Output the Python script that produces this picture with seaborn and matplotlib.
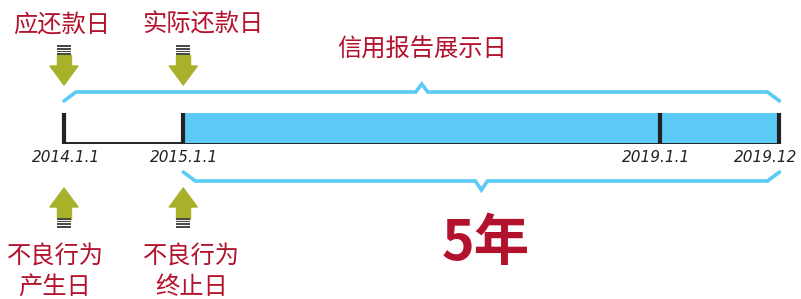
import matplotlib
matplotlib.use("Agg")
import matplotlib.pyplot as plt
from matplotlib.patches import Polygon, Rectangle
import seaborn as sns
import pandas as pd

# ---- data ----
tick_years = [2014.0, 2015.0, 2019.0, 2020.0]
tick_labels = ["2014.1.1", "2015.1.1", "2019.1.1", "2019.12"]
display_start, display_end = 2015.0, 2020.0      # blue bar (credit report display)
top_span = (2014.0, 2020.0)                      # 信用报告展示日 bracket
bottom_span = (2015.0, 2020.0)                   # 5年 bracket
top_labels = ["应还款日", "实际还款日"]
top_label_years = [2014.0, 2015.0]
bottom_labels = ["不良行为\n产生日", "不良行为\n终止日"]
bottom_label_years = [2014.0, 2015.0]
span_title = "信用报告展示日"
span_years_label = "5年"

sns.set_theme(style="white")
plt.rcParams['font.family'] = ['Noto Sans CJK SC', 'DejaVu Sans']

W, H = 801, 299
fig = plt.figure(figsize=(W / 100, H / 100), dpi=100)
ax = fig.add_axes([0, 0, 1, 1])
PX = 119.25                      # pixels per year
x0 = 2014.0 - 64 / PX
ax.set_xlim(x0, x0 + W / PX)
ax.set_ylim(H, 0)
ax.axis("off")
p = 1 / PX                       # one pixel in years

RED = "#B3122C"
BLUE = "#5BCAF5"
GREEN = "#A9B12B"
DARK = "#222222"

# baseline
ax.plot([tick_years[0], tick_years[-1]], [143, 143], color=DARK, lw=1.4, zorder=1)
# blue display bar
ax.barh(y=128, width=display_end - display_start, left=display_start, height=30,
        color=BLUE, edgecolor="none", zorder=2)
# tick marks
ax.vlines(tick_years, 113, 144, color=DARK, lw=3, zorder=3)
label_offsets = [2, 1, -4, -14]
for yr, lab, off in zip(tick_years, tick_labels, label_offsets):
    ax.text(yr + off * p, 157, lab, ha="center", va="center", fontsize=11, style="italic",
            color=DARK, family=["DejaVu Sans"])

def bracket(a, b, base, tip, end):
    mid = (a + b) / 2
    xs = [a, a + 12 * p, mid - 6 * p, mid, mid + 6 * p, b - 12 * p, b]
    ys = [end, base, base, tip, base, base, end]
    df = pd.DataFrame({"x": xs, "y": ys})
    sns.lineplot(data=df, x="x", y="y", sort=False, color=BLUE, lw=2.6,
                 ax=ax, zorder=2, solid_joinstyle="miter")

bracket(top_span[0], top_span[1], 92, 84, 101)
bracket(bottom_span[0], bottom_span[1], 181, 190, 172)
ax.set_xlabel(""); ax.set_ylabel("")

def arrow(xc, tip_y, down=True):
    s = 1 if down else -1
    hb = tip_y - s * 19
    head = [(xc - 14 * p, hb), (xc + 14 * p, hb), (xc, tip_y)]
    ax.add_patch(Polygon(head, closed=True, color=GREEN, zorder=4, joinstyle="round"))
    sb = hb - s * 11
    ax.add_patch(Rectangle((xc - 7 * p, min(hb, sb)), 14 * p, 11.5, color=GREEN, zorder=4))
    for i in range(4):
        yy = sb - s * (1.0 + i * 2.6)
        ax.add_patch(Rectangle((xc - 7 * p, yy - 0.8), 14 * p, 1.6,
                               color="#4a4a4a", zorder=4, lw=0))

for yr in top_label_years:
    arrow(yr, 85, down=True)
for yr in bottom_label_years:
    arrow(yr, 188, down=False)

top_offsets = [-2, 20]
for yr, lab, off in zip(top_label_years, top_labels, top_offsets):
    ax.text(yr + off * p, 25, lab, ha="center", va="center", fontsize=17.5, color=RED)
bottom_offsets = [-9, 8]
for yr, lab, off in zip(bottom_label_years, bottom_labels, bottom_offsets):
    ax.text(yr + off * p, 272, lab, ha="center", va="center",
            fontsize=17.5, color=RED, linespacing=1.25)
ax.text((top_span[0] + top_span[1]) / 2, 50, span_title, ha="center", va="center",
        fontsize=17.5, color=RED)
ax.text((bottom_span[0] + bottom_span[1]) / 2 + 4 * p, 244, span_years_label,
        ha="center", va="center", fontsize=40, fontweight="bold", color=RED)

fig.savefig("out.png", dpi=100)
